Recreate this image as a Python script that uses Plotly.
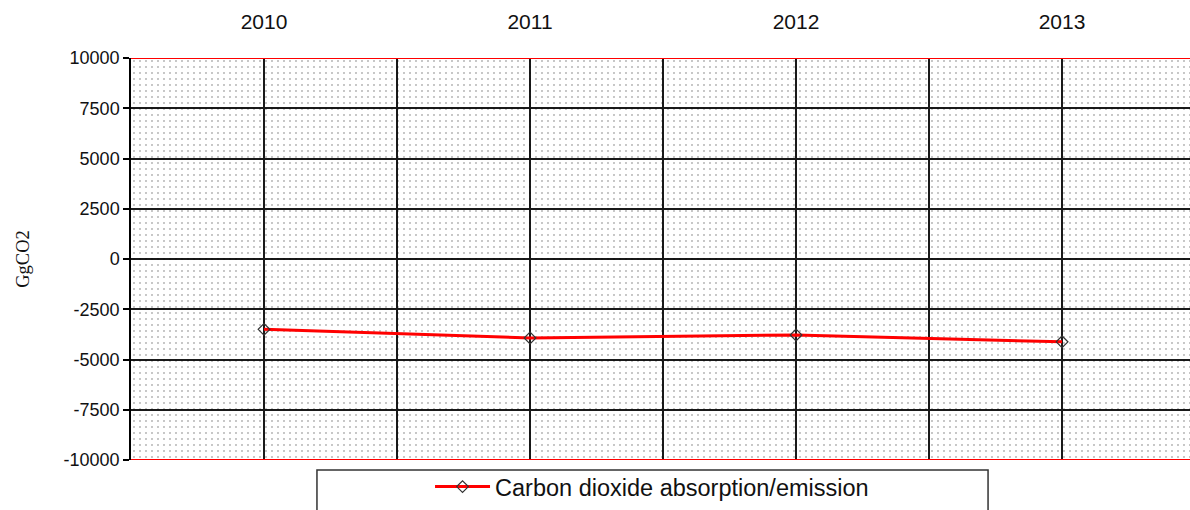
import plotly.graph_objects as go

years = ['2010', '2011', '2012', '2013']
co2 = [-3500, -3930, -3780, -4120]
y_ticks = [10000, 7500, 5000, 2500, 0, -2500, -5000, -7500, -10000]
y_labels = [str(v) for v in y_ticks]

GRID = '#1a1a1a'
RED = '#ff0000'
xpos = list(range(len(years)))

fig = go.Figure()

# dotted plot-area fill (one wide bar covering the whole x range)
fig.add_trace(go.Bar(
    x=[(len(years) - 1) / 2], y=[y_ticks[0] - y_ticks[-1]], base=[y_ticks[-1]],
    width=[len(years)], showlegend=False, hoverinfo='skip',
    marker=dict(color='rgba(0,0,0,0)', line=dict(width=0),
                pattern=dict(shape='.', size=6, solidity=0.055, fgcolor='#000000',
                             bgcolor='rgba(0,0,0,0)', fillmode='overlay'))))

fig.add_trace(go.Scatter(
    x=xpos, y=co2, name='Carbon dioxide absorption/emission', mode='lines+markers',
    line=dict(color=RED, width=3),
    marker=dict(symbol='diamond-open', size=9, color='#333333', line=dict(width=1.2))))

fig.update_layout(
    width=1190, height=510, margin=dict(l=131, r=0, t=58, b=50),
    paper_bgcolor='white', plot_bgcolor='white',
    font=dict(family='Liberation Sans, Arial, sans-serif', color='#111111'),
    showlegend=True, hovermode=False,
    legend=dict(orientation='h', x=0.492, xanchor='center', y=-0.012, yanchor='top',
                font=dict(size=23.5), itemwidth=55, bgcolor='rgba(0,0,0,0)'),
    xaxis=dict(range=[-0.5, 3.481], side='top', tickvals=xpos, ticktext=years,
               tickfont=dict(size=21), ticklabelstandoff=24, ticks='', automargin=False,
               showgrid=True, gridcolor=GRID, gridwidth=1.5, zeroline=False, showline=False,
               minor=dict(tickvals=[-0.5, 0.5, 1.5, 2.5, 3.5], showgrid=True,
                          gridcolor=GRID, gridwidth=1.5, ticks='')),
    yaxis=dict(range=[y_ticks[-1], y_ticks[0]], tickvals=y_ticks, ticktext=y_labels,
               tickfont=dict(size=18), automargin=False,
               ticks='outside', ticklen=6, tickcolor='#000000', tickwidth=1.5,
               showline=True, linecolor='#000000', linewidth=1.5,
               showgrid=True, gridcolor=GRID, gridwidth=1.5, zeroline=False,
               title=dict(text='GgCO2', standoff=29,
                          font=dict(family='Liberation Serif, Times New Roman, serif', size=18.5))),
    shapes=[
        dict(type='line', xref='paper', yref='y', x0=0, x1=1, y0=y_ticks[0], y1=y_ticks[0],
             line=dict(color=RED, width=2), layer='above'),
        dict(type='line', xref='paper', yref='y', x0=0, x1=1, y0=y_ticks[-1], y1=y_ticks[-1],
             line=dict(color=RED, width=2), layer='above'),
        dict(type='rect', xref='paper', yref='paper', x0=0.1756, x1=0.8093, y0=-0.025, y1=-0.2,
             line=dict(color='#333333', width=1.5), fillcolor='rgba(0,0,0,0)'),
    ],
)

fig.write_html('out.html', config={'displayModeBar': False},
               post_script="document.body.style.margin='0';")
